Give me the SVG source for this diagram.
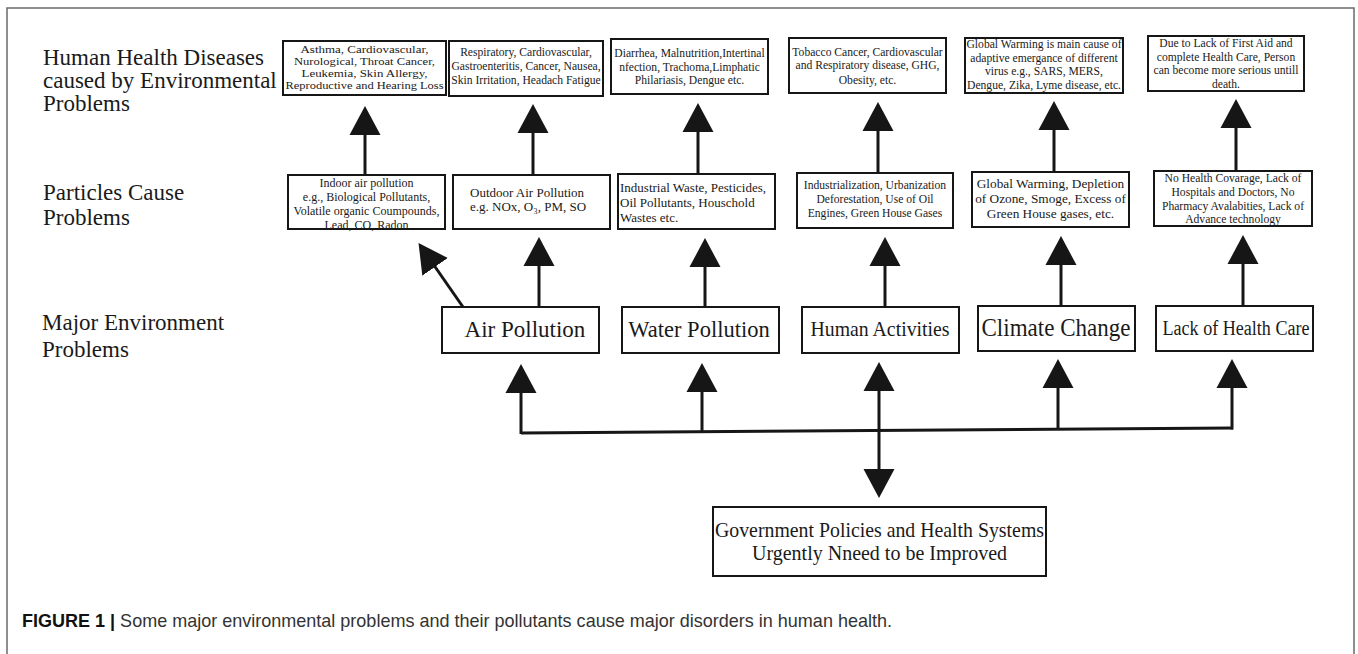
<svg xmlns="http://www.w3.org/2000/svg" width="1358" height="654" viewBox="0 0 1358 654">
<defs>
<marker id="ah" viewBox="0 -16 30 32" refX="1" refY="0" markerWidth="30" markerHeight="32" markerUnits="userSpaceOnUse" orient="auto">
<path d="M0,-15.5 L29,0 L0,15.5 Z" fill="#161616"/>
</marker>
<style>
.frame{fill:none;stroke:#6a6a6a;stroke-width:1.5}
.box{fill:#fff;stroke:#161616;stroke-width:2}
.lbl{font-family:"Liberation Serif","Times New Roman",serif;font-size:23px;fill:#1a1a1a}
.t{font-family:"Liberation Serif","Times New Roman",serif;fill:#1a1a1a;text-anchor:middle}
.tl{font-family:"Liberation Serif","Times New Roman",serif;fill:#1a1a1a}
.s{font-size:11.6px}
.m{font-size:13px}
.big{font-size:23px}
.con{fill:none;stroke:#161616;stroke-width:3}
.arr{fill:none;stroke:#161616;stroke-width:3;marker-end:url(#ah)}
.cap{font-family:"Liberation Sans",Arial,sans-serif;font-size:19px;fill:#333}
</style>
</defs>
<rect width="1358" height="654" fill="#fff"/>
<rect class="frame" x="7" y="8" width="1347" height="700"/>

<g id="row-labels">
<text class="lbl" x="43" y="65">Human Health Diseases</text>
<text class="lbl" x="43" y="88">caused by Environmental</text>
<text class="lbl" x="43" y="111">Problems</text>
<text class="lbl" x="43" y="200">Particles Cause</text>
<text class="lbl" x="43" y="225">Problems</text>
<text class="lbl" x="42" y="330">Major Environment</text>
<text class="lbl" x="42" y="357">Problems</text>
</g>

<g id="connectors">
<path class="arr" d="M365,175 L365,134"/>
<path class="arr" d="M533,175 L533,132"/>
<path class="arr" d="M698,174 L698,131"/>
<path class="arr" d="M878,173 L878,130"/>
<path class="arr" d="M1054,172 L1054,129"/>
<path class="arr" d="M1236,171 L1236,127"/>
<path class="arr" d="M463,307 L434.5,266"/>
<path class="arr" d="M539,307 L539,265"/>
<path class="arr" d="M705,307 L705,266"/>
<path class="arr" d="M885,307 L885,265"/>
<path class="arr" d="M1061,306 L1061,264"/>
<path class="arr" d="M1243,306 L1243,263"/>
<path class="con" d="M521,433 L1233,428"/>
<path class="arr" d="M521,434 L521,392"/>
<path class="arr" d="M702,433 L702,391"/>
<path class="arr" d="M879,432 L879,390"/>
<path class="arr" d="M1058,430 L1058,387"/>
<path class="arr" d="M1232,429.5 L1232,387"/>
<path class="arr" d="M879,431 L879,470"/>
</g>

<g id="d1">
<rect class="box" x="283" y="41" width="163" height="54"/>
<text class="t" font-size="11.2" x="364.5" y="53" textLength="128" lengthAdjust="spacingAndGlyphs">Asthma, Cardiovascular,</text>
<text class="t" font-size="11.2" x="364.5" y="65" textLength="141" lengthAdjust="spacingAndGlyphs">Nurological, Throat Cancer,</text>
<text class="t" font-size="11.2" x="364.5" y="77" textLength="126" lengthAdjust="spacingAndGlyphs">Leukemia, Skin Allergy,</text>
<text class="t" font-size="11.2" x="364.5" y="89" textLength="158" lengthAdjust="spacingAndGlyphs">Reproductive and Hearing Loss</text>
</g>
<g id="d2">
<rect class="box" x="449" y="41" width="154" height="55"/>
<text class="t s" x="526" y="56">Respiratory, Cardiovascular,</text>
<text class="t s" x="526" y="70">Gastroenteritis, Cancer, Nausea,</text>
<text class="t s" x="526" y="84">Skin Irritation, Headach Fatigue</text>
</g>
<g id="d3">
<rect class="box" x="611" y="39" width="157" height="55"/>
<text class="t s" x="689.5" y="57">Diarrhea, Malnutrition,Intertinal</text>
<text class="t s" x="689.5" y="71">nfection, Trachoma,Limphatic</text>
<text class="t s" x="689.5" y="84">Philariasis, Dengue etc.</text>
</g>
<g id="d4">
<rect class="box" x="789" y="38" width="157" height="55"/>
<text class="t s" x="867.5" y="56">Tobacco Cancer, Cardiovascular</text>
<text class="t s" x="867.5" y="69">and Respiratory disease, GHG,</text>
<text class="t s" x="867.5" y="84">Obesity, etc.</text>
</g>
<g id="d5">
<rect class="box" x="965" y="38" width="158" height="55"/>
<text class="t s" x="1044" y="48">Global Warming is main cause of</text>
<text class="t s" x="1044" y="62">adaptive emergance of different</text>
<text class="t s" x="1044" y="75">virus e.g., SARS, MERS,</text>
<text class="t s" x="1044" y="89">Dengue, Zika, Lyme disease, etc.</text>
</g>
<g id="d6">
<rect class="box" x="1148" y="36" width="156" height="55"/>
<text class="t s" x="1226" y="47">Due to Lack of First Aid and</text>
<text class="t s" x="1226" y="61">complete Health Care, Person</text>
<text class="t s" x="1226" y="74">can become more serious untill</text>
<text class="t s" x="1226" y="88">death.</text>
</g>

<g id="p1">
<rect class="box" x="288" y="175" width="157" height="54"/>
<text class="t" font-size="12" x="366.5" y="187">Indoor air pollution</text>
<text class="t" font-size="12" x="366.5" y="201">e.g., Biological Pollutants,</text>
<text class="t" font-size="12" x="366.5" y="215">Volatile organic Coumpounds,</text>
<text class="t" font-size="12" x="366.5" y="228.5">Lead, CO, Radon</text>
</g>
<g id="p2">
<rect class="box" x="453" y="175" width="157" height="54"/>
<text class="tl m" x="470" y="197">Outdoor Air Pollution</text>
<text class="tl m" x="470" y="211">e.g. NOx, O₃,  PM, SO</text>
</g>
<g id="p3">
<rect class="box" x="618" y="174" width="157" height="55"/>
<text class="tl m" x="620" y="192">Industrial Waste, Pesticides,</text>
<text class="tl m" x="620" y="207">Oil Pollutants, Houschold</text>
<text class="tl m" x="620" y="222">Wastes etc.</text>
</g>
<g id="p4">
<rect class="box" x="797" y="173" width="156" height="55"/>
<text class="t s" x="875" y="189">Industrialization, Urbanization</text>
<text class="t s" x="875" y="203">Deforestation, Use of Oil</text>
<text class="t s" x="875" y="217">Engines, Green House Gases</text>
</g>
<g id="p5">
<rect class="box" x="972" y="172" width="157" height="55"/>
<text class="t" font-size="13.3" x="1050.5" y="188">Global Warming, Depletion</text>
<text class="t" font-size="13.3" x="1050.5" y="203">of Ozone, Smoge, Excess of</text>
<text class="t" font-size="13.3" x="1050.5" y="218">Green House gases, etc.</text>
</g>
<g id="p6">
<rect class="box" x="1154" y="171" width="158" height="55"/>
<text class="t s" x="1233" y="182">No Health Covarage, Lack of</text>
<text class="t s" x="1233" y="196">Hospitals and Doctors, No</text>
<text class="t s" x="1233" y="210">Pharmacy Avalabities, Lack of</text>
<text class="t s" x="1233" y="223">Advance technology</text>
</g>

<g id="air-pollution">
<rect class="box" x="442" y="307" width="157" height="46"/>
<text class="t big" x="525" y="337">Air Pollution</text>
</g>
<g id="water-pollution">
<rect class="box" x="622" y="307" width="157" height="46"/>
<text class="t" font-size="22.5" x="699" y="337">Water Pollution</text>
</g>
<g id="human-activities">
<rect class="box" x="802" y="307" width="157" height="46"/>
<text class="t" font-size="21" x="880" y="336" textLength="139" lengthAdjust="spacingAndGlyphs">Human Activities</text>
</g>
<g id="climate-change">
<rect class="box" x="978" y="306" width="157" height="45"/>
<text class="t" font-size="25" x="1056" y="336" textLength="149" lengthAdjust="spacingAndGlyphs">Climate Change</text>
</g>
<g id="lack-health-care">
<rect class="box" x="1156" y="306" width="157" height="45"/>
<text class="t" font-size="20.5" x="1236" y="335" textLength="147" lengthAdjust="spacingAndGlyphs">Lack of Health Care</text>
</g>

<g id="government">
<rect class="box" x="713" y="507" width="333" height="69"/>
<text class="t" font-size="21" x="879.5" y="537" textLength="329" lengthAdjust="spacingAndGlyphs">Government Policies and Health Systems</text>
<text class="t" font-size="21" x="879.5" y="560" textLength="255" lengthAdjust="spacingAndGlyphs">Urgently Nneed to be Improved</text>
</g>

<g id="caption">
<text class="cap" x="22" y="627" textLength="870" lengthAdjust="spacingAndGlyphs"><tspan font-weight="bold" fill="#111">FIGURE 1 |</tspan> Some major environmental problems and their pollutants cause major disorders in human health.</text>
</g>
</svg>
